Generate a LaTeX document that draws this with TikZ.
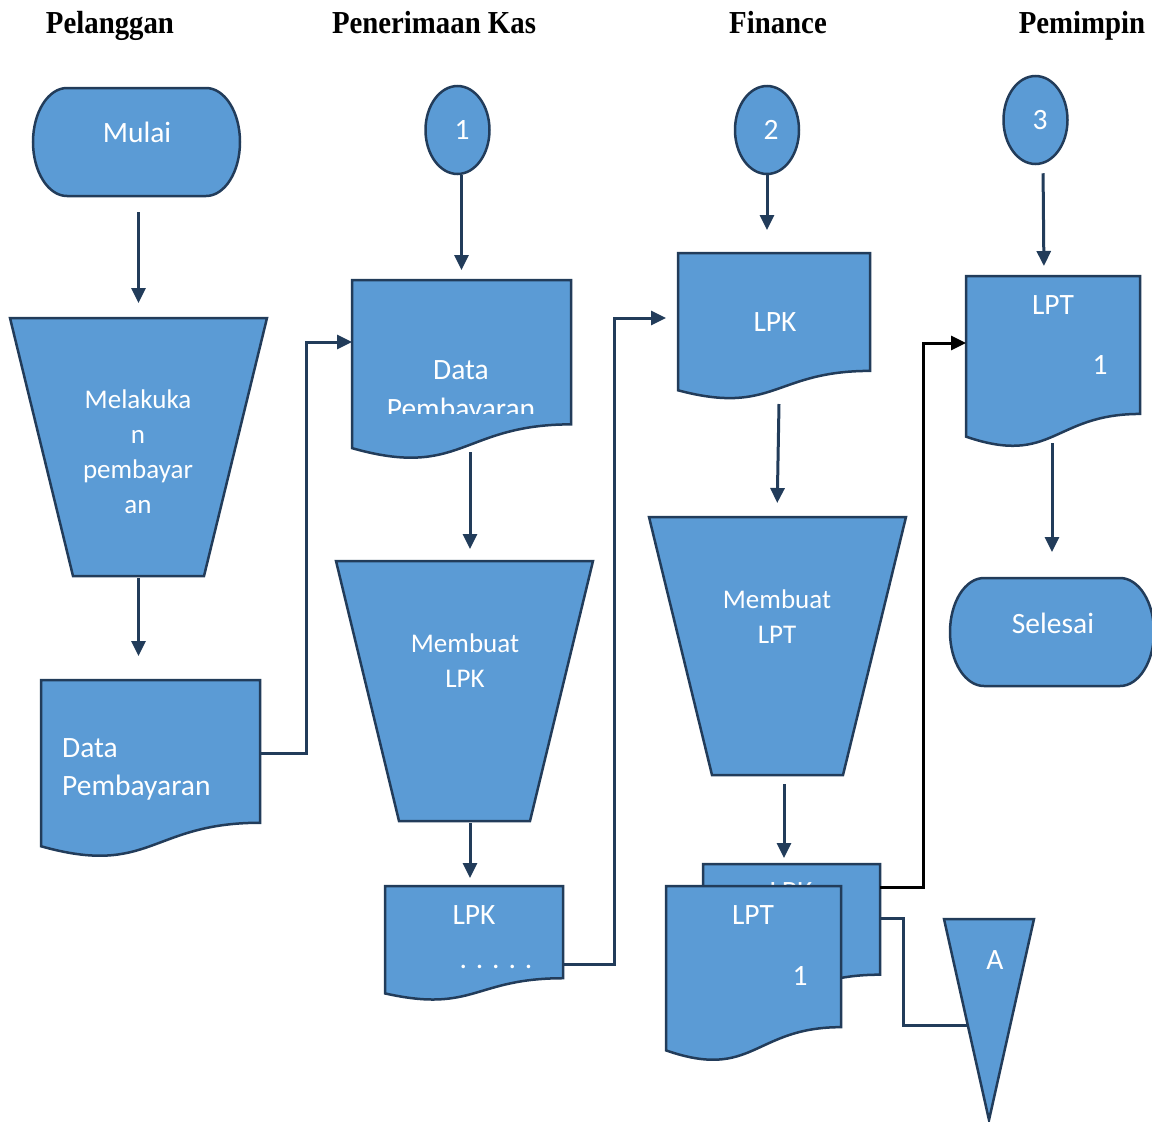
\documentclass[tikz,border=0pt]{standalone}
\usepackage{fontspec}
\usepackage{graphicx}
\setmainfont{Carlito}
\newfontfamily\headfont{Liberation Serif}
\usetikzlibrary{arrows.meta,calc,shapes.geometric}
\definecolor{flowfill}{RGB}{91,155,213}
\definecolor{flowline}{RGB}{34,60,90}

% document symbol with wavy bottom edge, drawn over a named box node
\newcommand\flowdoc[1]{\draw[shp] (#1.north west) -- (#1.north east)
  -- ($(#1.north east)!0.802!(#1.south east)$)
  .. controls ($(#1.north)!0.802!(#1.south)$) and ($(#1.north)!1.107!(#1.south)$)
  .. ($(#1.north west)!0.934!(#1.south west)$) -- cycle;}
% manual operation (inverted trapezoid)
\newcommand\flowtrap[1]{\draw[shp] (#1.north west) -- (#1.north east)
  -- ([xshift=-63pt]#1.south east) -- ([xshift=63pt]#1.south west) -- cycle;}
% terminator with elliptic ends
\newcommand\flowterm[1]{\draw[shp] ([xshift=34pt]#1.north west) -- ([xshift=-34pt]#1.north east)
  arc[start angle=-90,end angle=90,x radius=34,y radius=54]
  -- ([xshift=34pt]#1.south west)
  arc[start angle=90,end angle=270,x radius=34,y radius=54] -- cycle;}

\begin{document}
\begin{tikzpicture}[x=1pt,y=-1pt,
  box/.style={draw=none,inner sep=0pt,outer sep=0pt,anchor=north west},
  shp/.style={draw=flowline,fill=flowfill,line width=2.5pt,line join=miter},
  lbl/.style={text=white,font=\fontsize{29.5}{35}\selectfont,inner sep=0pt,anchor=base},
  slbl/.style={lbl,font=\fontsize{27}{32}\selectfont},
  hdr/.style={font=\headfont\bfseries\fontsize{32}{38}\selectfont,inner sep=0pt,anchor=base},
  conn/.style={draw=flowline,line width=3pt},
  arr/.style={conn,-{Triangle[length=15pt,width=14pt]}},
  oval/.style={shp,ellipse,minimum width=64pt,minimum height=88pt,inner sep=0pt}]
\useasboundingbox (0,0) rectangle (1152,1122);

% lane headings
\node[hdr] (h1) at (110,33) {\scalebox{0.9}[1]{Pelanggan}};
\node[hdr] (h2) at (434,33) {\scalebox{0.9}[1]{Penerimaan Kas}};
\node[hdr] (h3) at (778,33) {\scalebox{0.9}[1]{Finance}};
\node[hdr] (h4) at (1082,33) {\scalebox{0.9}[1]{Pemimpin}};

% layout boxes
\node[box,minimum width=207pt,minimum height=108pt] (mulai) at (33,88) {};
\node[box,minimum width=257pt,minimum height=258pt] (melak) at (10,318) {};
\node[box,minimum width=219pt,minimum height=178pt] (dp1) at (41,680) {};
\node[box,minimum width=219pt,minimum height=180pt] (dp2) at (352,280) {};
\node[box,minimum width=257pt,minimum height=260pt] (tr2) at (336,561) {};
\node[box,minimum width=178pt,minimum height=115pt] (lpk1) at (385,886) {};
\node[box,minimum width=192pt,minimum height=147pt] (lpk2) at (678,253) {};
\node[box,minimum width=257pt,minimum height=258pt] (tr3) at (649,517) {};
\node[box,minimum width=177pt,minimum height=138pt] (back) at (703,864) {};
\node[box,minimum width=175pt,minimum height=176pt] (front) at (666,886) {};
\node[box,minimum width=90pt,minimum height=201pt] (triA) at (944,919) {};
\node[box,minimum width=174pt,minimum height=172pt] (lpt2) at (966,276) {};
\node[box,minimum width=204pt,minimum height=108pt] (sel) at (950,578) {};

% Pelanggan lane
\flowterm{mulai}
\flowtrap{melak}
\flowdoc{dp1}
\node[lbl] (tmulai) at (137,142) {Mulai};
\node[slbl] (tm1) at (138,408) {Melakuka};
\node[slbl] (tm2) at (138,443) {n};
\node[slbl] (tm3) at (138,478) {pembayar};
\node[slbl] (tm4) at (138,513) {an};
\node[lbl,anchor=base west] (tdp1a) at (62,757) {Data};
\node[lbl,anchor=base west] (tdp1b) at (62,795) {Pembayaran};

% Penerimaan Kas lane
\node[oval] (c1) at (457.5,130) {};
\node[lbl] (tc1) at (462,139) {1};
\flowdoc{dp2}
\node[lbl] (tdp2a) at (461,379) {Data};
\begin{scope}
  \clip (352,280) rectangle (571,413);
  \node[lbl] (tdp2b) at (461,418) {Pembayaran};
\end{scope}
\flowtrap{tr2}
\node[slbl] (ttr2a) at (465,652) {Membuat};
\node[slbl] (ttr2b) at (465,687) {LPK};
\flowdoc{lpk1}
\node[lbl] (tlpk1) at (474,924) {LPK};
\node[lbl] (tdots) at (496,968) {. . . . .};

% Finance lane
\node[oval] (c2) at (767,130) {};
\node[lbl] (tc2) at (771,139) {2};
\flowdoc{lpk2}
\node[lbl] (tlpk2) at (775,331) {LPK};
\flowtrap{tr3}
\node[slbl] (ttr3a) at (777,608) {Membuat};
\node[slbl] (ttr3b) at (777,643) {LPT};
\flowdoc{back}
\node[lbl] (tback) at (791,901) {LPK};
\flowdoc{front}
\node[lbl] (tfront) at (753,924) {LPT};
\node[lbl] (tfront1) at (800,985) {1};
\draw[shp] (triA.north west) -- (triA.north east) -- (triA.south) -- cycle;
\node[lbl] (ttriA) at (995,969) {A};

% Pemimpin lane
\node[oval] (c3) at (1035.5,120) {};
\node[lbl] (tc3) at (1040,129) {3};
\flowdoc{lpt2}
\node[lbl] (tlpt2) at (1053,314) {LPT};
\node[lbl] (tlpt2b) at (1100,374) {1};
\flowterm{sel}
\node[lbl] (tsel) at (1053,633) {Selesai};

% connectors
\draw[arr,shorten <=16pt,shorten >=15pt] (mulai.south -| melak.north) -- (melak.north);
\draw[arr,shorten <=2pt,shorten >=24pt] (melak.south) -- (melak.south |- dp1.north);
\draw[arr] ([yshift=16pt]dp1.east) -- ++(46,0) |- ([yshift=28pt]dp2.west);
\draw[arr,shorten >=10pt] ([xshift=4pt]c1.south) -- ([xshift=4pt]c1.south |- dp2.north);
\draw[arr,shorten >=12pt] ([xshift=8.5pt,yshift=8pt]dp2.south) -- ([xshift=8.5pt]dp2.south |- tr2.north);
\draw[arr,shorten <=2pt,shorten >=8pt] ([xshift=5.5pt]tr2.south) -- ([xshift=5.5pt]tr2.south |- lpk1.north);
\draw[arr,shorten >=12pt] ([yshift=-20.5pt]lpk1.east) -- ++(51,0) |- ([yshift=8.5pt]lpk2.west);
\draw[arr,shorten >=23pt] (c2.south) -- (c2.south |- lpk2.north);
\draw[arr,shorten >=14pt] ([xshift=5pt,yshift=-4pt]lpk2.south) -- ([xshift=-0.5pt]tr3.north);
\draw[arr,shorten <=9pt,shorten >=6pt] ([xshift=6.5pt]tr3.south) -- ([xshift=6.5pt]tr3.south |- back.north);
\draw[arr,draw=black] ([yshift=46pt]back.east) -- ++(43,0) |- ([yshift=19pt]lpt2.west);
\draw[conn] ([yshift=15pt]back.east) -- ++(23,0) |- ($(triA.north west)!0.532!(triA.south)$);
\draw[arr,shorten <=8pt,shorten >=10pt] ([xshift=7.5pt]c3.south) -- ([xshift=-9pt]lpt2.north);
\draw[arr,shorten >=26pt] ([xshift=-1pt,yshift=5pt]lpt2.south) -- ([xshift=-1pt]lpt2.south |- sel.north);
\end{tikzpicture}
\end{document}
